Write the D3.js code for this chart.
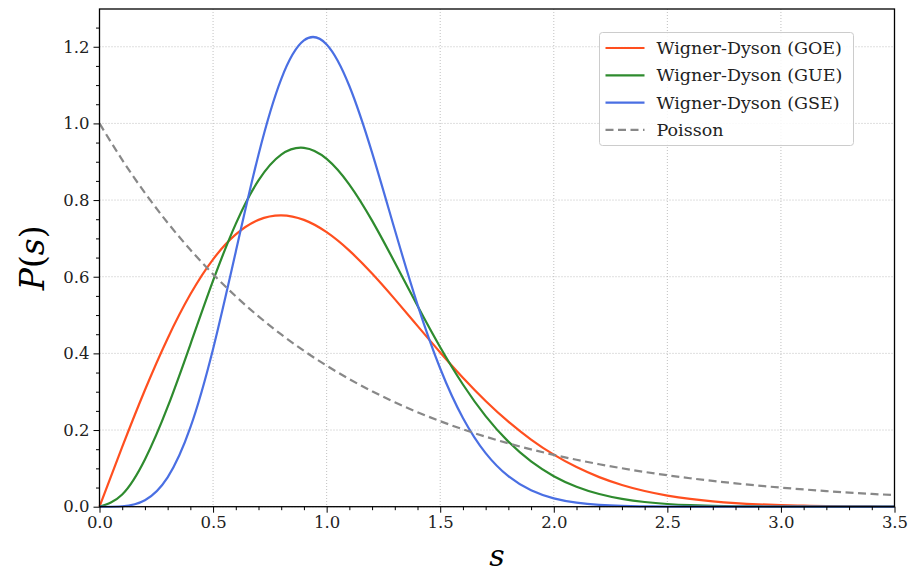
<!DOCTYPE html>
<html>
<head>
<meta charset="utf-8">
<script src="https://cdn.jsdelivr.net/npm/d3@7"></script>
<style>
  html, body { margin: 0; padding: 0; background: #fff; }
  svg { display: block; }
</style>
</head>
<body>
<svg id="chart" width="909" height="575"></svg>
<script>
// ---- data ----
const sValues = [0.0,0.1,0.2,0.3,0.4,0.5,0.6,0.7,0.8,0.9,1.0,1.1,1.2,1.3,1.4,1.5,1.6,1.7,1.8,1.9,2.0,2.1,2.2,2.3,2.4,2.5,2.6,2.7,2.8,2.9,3.0,3.1,3.2,3.3,3.4,3.5];
const goeValues = [0,0.15585,0.30444,0.43908,0.55412,0.64538,0.71036,0.74832,0.76014,0.74830,0.71619,0.66803,0.60832,0.54151,0.47176,0.40251,0.33653,0.27593,0.22198,0.17525,0.13576,0.10329,0.07720,0.05666,0.04088,0.02899,0.02020,0.01383,0.00931,0.00617,0.00401,0.00257,0.00162,0.00100,0.00061,0.00036];
const gueValues = [0,0.03201,0.12325,0.26021,0.42315,0.58959,0.73803,0.85136,0.91863,0.93639,0.90758,0.84054,0.74641,0.63709,0.52402,0.41584,0.31881,0.23641,0.16971,0.11804,0.07963,0.05209,0.03307,0.02038,0.01219,0.00709,0.00401,0.00220,0.00117,0.00061,0.00031,0.00015,0.00007,0.00003,0.00001,0.00001];
const gseValues = [0,0.00113,0.01695,0.07663,0.20670,0.41160,0.66540,0.91848,1.11571,1.21647,1.20614,1.09763,0.92375,0.72243,0.52736,0.36050,0.23134,0.13969,0.07950,0.04272,0.02169,0.01043,0.00474,0.00205,0.00084,0.00033,0.00012,0.00004,0.00001,0,0,0,0,0,0,0];
const poissonValues = [1,0.90484,0.81873,0.74082,0.67032,0.60653,0.54881,0.49659,0.44933,0.40657,0.36788,0.33287,0.30119,0.27253,0.24660,0.22313,0.20190,0.18268,0.16530,0.14957,0.13534,0.12246,0.11080,0.10026,0.09072,0.08208,0.07427,0.06721,0.06081,0.05502,0.04979,0.04505,0.04076,0.03688,0.03337,0.03020];

const seriesNames = ["Wigner-Dyson (GOE)", "Wigner-Dyson (GUE)", "Wigner-Dyson (GSE)", "Poisson"];
const seriesColors = ["#ff4f1f", "#2e8b2e", "#4a6fe3", "#888888"];
const xTickValues = [0.0,0.5,1.0,1.5,2.0,2.5,3.0,3.5];
const yTickValues = [0.0,0.2,0.4,0.6,0.8,1.0,1.2];

// ---- layout ----
const svg = d3.select("#chart");
const mLeft = 99.5, mRight = 894.5, mTop = 9, mBottom = 506.7;
const x = d3.scaleLinear().domain([0, 3.5]).range([mLeft, mRight]);
const y = d3.scaleLinear().domain([0, 1.2985]).range([mBottom, mTop]);
const font = "'DejaVu Serif', serif";

// grid
const grid = svg.append("g");
xTickValues.forEach(v => {
  grid.append("line").attr("x1", x(v)).attr("x2", x(v)).attr("y1", mTop).attr("y2", mBottom)
    .attr("stroke", "#b0b0b0").attr("stroke-width", 0.8).attr("stroke-dasharray", "1,2");
});
yTickValues.forEach(v => {
  grid.append("line").attr("x1", mLeft).attr("x2", mRight).attr("y1", y(v)).attr("y2", y(v))
    .attr("stroke", "#b0b0b0").attr("stroke-width", 0.8).attr("stroke-dasharray", "1,2");
});

// series
const series = [goeValues, gueValues, gseValues, poissonValues];
const line = d3.line()
  .x((d, i) => x(sValues[i]))
  .y(d => y(d))
  .curve(d3.curveNatural);

const plot = svg.append("g");
series.forEach((vals, k) => {
  const p = plot.append("path").datum(vals)
    .attr("d", line)
    .attr("fill", "none")
    .attr("stroke", seriesColors[k])
    .attr("stroke-width", 2.2)
    .attr("stroke-linejoin", "round");
  if (k === 3) p.attr("stroke-dasharray", "8,4.5");
});

// axes
const xAxis = d3.axisBottom(x).tickValues(xTickValues).tickFormat(d3.format(".1f")).tickSize(6).tickPadding(4);
const xMinor = d3.axisBottom(x).tickValues(d3.range(0, 36).map(i => i / 10).filter(v => Math.abs(v * 2 - Math.round(v * 2)) > 1e-6)).tickFormat("").tickSize(3.5);
const yAxis = d3.axisLeft(y).tickValues(yTickValues).tickFormat(d3.format(".1f")).tickSize(6).tickPadding(4);
const yMinor = d3.axisLeft(y).tickValues(d3.range(1, 26).map(i => i * 0.05).filter(v => Math.abs(v * 5 - Math.round(v * 5)) > 1e-6)).tickFormat("").tickSize(3.5);

function styleAxis(g) {
  g.select(".domain").remove();
  g.selectAll(".tick line").attr("stroke", "#000").attr("stroke-width", 1);
  g.selectAll(".tick text").attr("fill", "#222").style("font-family", font).style("font-size", "16.5px");
}
svg.append("g").attr("transform", `translate(0,${mBottom})`).call(xAxis).call(styleAxis);
svg.append("g").attr("transform", `translate(0,${mBottom})`).call(xMinor).call(styleAxis);
svg.append("g").attr("transform", `translate(${mLeft},0)`).call(yAxis).call(styleAxis);
svg.append("g").attr("transform", `translate(${mLeft},0)`).call(yMinor).call(styleAxis);

// frame
svg.append("rect").attr("x", mLeft).attr("y", mTop).attr("width", mRight - mLeft).attr("height", mBottom - mTop)
  .attr("fill", "none").attr("stroke", "#000").attr("stroke-width", 1.3);

// axis labels
svg.append("text").attr("x", (mLeft + mRight) / 2).attr("y", 566)
  .attr("text-anchor", "middle").style("font-family", font).style("font-size", "30px").style("font-style", "italic")
  .text("s");
const yl = svg.append("text").attr("transform", `translate(44,${(mTop + mBottom) / 2}) rotate(-90)`)
  .attr("text-anchor", "middle").style("font-family", font).style("font-size", "33px");
yl.append("tspan").style("font-style", "italic").text("P");
yl.append("tspan").text("(");
yl.append("tspan").style("font-style", "italic").text("s");
yl.append("tspan").text(")");

// legend
const lg = svg.append("g");
lg.append("rect").attr("x", 599.5).attr("y", 32.5).attr("width", 254).attr("height", 113).attr("rx", 3)
  .attr("fill", "#fff").attr("fill-opacity", 0.85).attr("stroke", "#cccccc").attr("stroke-width", 1);
seriesNames.forEach((name, k) => {
  const yy = 48 + k * 27.3;
  const l = lg.append("line").attr("x1", 605.5).attr("x2", 644.5).attr("y1", yy).attr("y2", yy)
    .attr("stroke", seriesColors[k]).attr("stroke-width", 2.2);
  if (k === 3) l.attr("stroke-dasharray", "8,4.5");
  lg.append("text").attr("x", 656.5).attr("y", yy).attr("dy", "0.35em")
    .style("font-family", font).style("font-size", "17.5px").attr("fill", "#222").text(name);
});
</script>
</body>
</html>
